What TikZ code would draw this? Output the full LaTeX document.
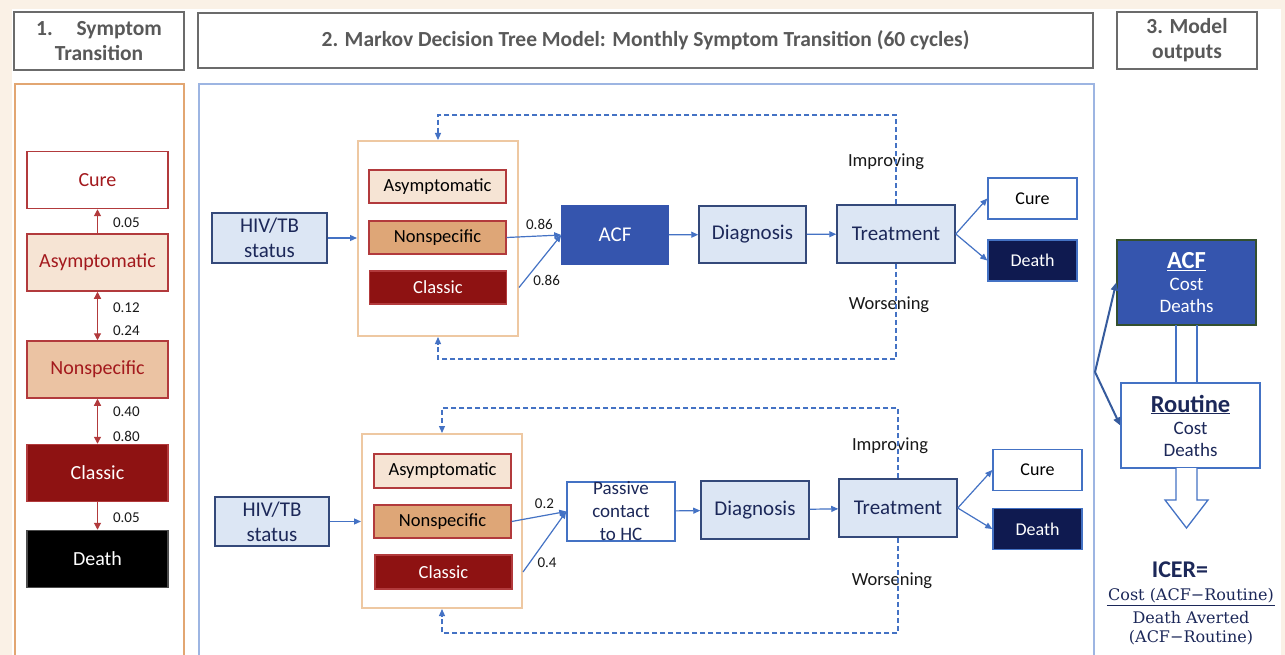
\documentclass[tikz,border=0pt]{standalone}
\usepackage{fontspec}
\setmainfont{Carlito}
\newfontfamily\icerfont{DejaVu Serif}
\usepackage{tikz}
\usetikzlibrary{arrows.meta,positioning}

\definecolor{cream}{HTML}{FAF1E6}
\definecolor{hdgray}{HTML}{6B6B6B}
\definecolor{txgray}{HTML}{595959}
\definecolor{panelorange}{HTML}{E2A672}
\definecolor{grporange}{HTML}{EEC8A2}
\definecolor{panelblue}{HTML}{9DB5E2}
\definecolor{symred}{HTML}{B23A3C}
\definecolor{symtext}{HTML}{A3191D}
\definecolor{asymfill}{HTML}{F6E4D4}
\definecolor{nonsfill}{HTML}{EBC3A3}
\definecolor{nonsdark}{HTML}{DEA677}
\definecolor{clasfill}{HTML}{8E1212}
\definecolor{stepfill}{HTML}{DCE6F4}
\definecolor{stepedge}{HTML}{34497A}
\definecolor{navytx}{HTML}{1C2859}
\definecolor{acfblue}{HTML}{3555AE}
\definecolor{deathnavy}{HTML}{0F1A50}
\definecolor{arrowblue}{HTML}{4472C4}
\definecolor{olive}{HTML}{34502F}

\tikzstyle{Header}=[rectangle, draw=hdgray, line width=2.5pt, text=txgray, font=\bfseries\fontsize{21.5}{25}\selectfont, align=center, inner sep=0pt]
\tikzstyle{Sym}=[rectangle, draw=symred, line width=1.5pt, minimum width=141, minimum height=57, inner sep=0pt, font=\fontsize{20}{24}\selectfont]
\tikzstyle{Inner}=[rectangle, draw=symred, line width=1.3pt, minimum width=137, minimum height=33, inner sep=0pt, font=\fontsize{18.5}{22}\selectfont]
\tikzstyle{Group}=[rectangle, draw=grporange, line width=2pt, fill=white, minimum width=160, inner sep=0pt]
\tikzstyle{StepBox}=[rectangle, draw=stepedge, line width=1.5pt, fill=stepfill, text=navytx, inner sep=0pt, font=\fontsize{21}{25}\selectfont, align=center]
\tikzstyle{Outcome}=[rectangle, draw=arrowblue, line width=1.5pt, minimum width=89, minimum height=41, inner sep=0pt, font=\fontsize{18}{22}\selectfont]
\tikzstyle{Flow}=[draw=arrowblue, line width=1.2pt, -{Triangle[length=7pt,width=6pt]}]
\tikzstyle{Loop}=[Flow, dash pattern=on 5pt off 3pt]
\tikzstyle{SymFlow}=[draw=symred, line width=1.2pt, -{Triangle[length=7pt,width=7pt]}]
\tikzstyle{Prob}=[font=\fontsize{15}{18}\selectfont, text=black!90, anchor=west, inner sep=0pt]
\tikzstyle{Branch}=[font=\fontsize{15}{18}\selectfont, text=black!90, inner sep=0pt]
\tikzstyle{Side}=[font=\fontsize{18.5}{22}\selectfont, text=black!90, inner sep=0pt]

\begin{document}
\begin{tikzpicture}[x=1pt, y=-1pt]
    \fill[cream] (0,0) rectangle (1285,655);
    \fill[white] (12,9) rectangle (1281,655);
    \useasboundingbox (0,0) rectangle (1285,655);

    % headers
    \path
    (99,41) node[Header, minimum width=170, minimum height=58] (hd1) {1.\hspace{1.1em}Symptom\\Transition}
    (645.5,40.5) node[Header, minimum width=895, minimum height=55] (hd2) {2. Markov Decision Tree Model: Monthly Symptom Transition (60 cycles)}
    (1187,40.5) node[Header, minimum width=140, minimum height=57] (hd3) {3. Model\\outputs};

    % panels
    \draw[panelorange, line width=2.5pt] (15,657) |- (184,84) -- (184,657);
    \draw[panelblue, line width=2.5pt] (199,657) |- (1094,84) -- (1094,657);

    % 1. symptom transition
    \path
    (97.5,180) node[Sym, fill=white, text=symtext] (cure1) {Cure}
    (97.5,262.5) node[Sym, fill=asymfill, text=symtext] (asym1) {Asymptomatic}
    (97.5,369.5) node[Sym, fill=nonsfill, text=symtext] (nons1) {Nonspecific}
    (97.5,473) node[Sym, fill=clasfill, text=white] (clas1) {Classic}
    (97.5,559) node[Sym, fill=black, draw=black!70, text=white] (dead1) {Death};

    \draw[SymFlow] (asym1) -- node[Prob, pos=0.45, xshift=15pt] {0.05} (cure1);
    \draw[SymFlow, {Triangle[length=7pt,width=7pt]}-{Triangle[length=7pt,width=7pt]}] (asym1) -- node[Prob, pos=0.32, xshift=15pt] {0.12} node[Prob, pos=0.8, xshift=15pt] {0.24} (nons1);
    \draw[SymFlow, {Triangle[length=7pt,width=7pt]}-{Triangle[length=7pt,width=7pt]}] (nons1) -- node[Prob, pos=0.28, xshift=15pt] {0.40} node[Prob, pos=0.83, xshift=15pt] {0.80} (clas1);
    \draw[SymFlow] (clas1) -- node[Prob, pos=0.57, xshift=15pt] {0.05} (dead1);

    % 2. ACF arm
    \path
    (438,238.5) node[Group, minimum height=195] (grpA) {}
    (437.5,186.5) node[Inner, fill=asymfill] (asymA) {Asymptomatic}
    (437.5,237.5) node[Inner, fill=nonsdark] (nonsA) {Nonspecific}
    (438,287.5) node[Inner, fill=clasfill, text=white] (clasA) {Classic}
    (269.5,238) node[StepBox, minimum width=115, minimum height=50] (hivA) {HIV/TB\\status}
    (615,235) node[StepBox, fill=acfblue, draw=acfblue, text=white, minimum width=106, minimum height=58] (acfA) {ACF}
    (752.5,234.5) node[StepBox, minimum width=107, minimum height=57] (diagA) {Diagnosis}
    (896,234) node[StepBox, minimum width=118, minimum height=58] (treatA) {Treatment}
    (1032.5,198.5) node[Outcome, fill=white] (cureA) {Cure}
    (1032.5,260.5) node[Outcome, fill=deathnavy, text=white] (deadA) {Death}
    (886,162) node[Side] (impA) {Improving}
    (889,305) node[Side] (worA) {Worsening};

    \draw[Flow] (hivA) -- (grpA.west |- hivA);
    \draw[Flow] (nonsA.east) -- node[Branch, pos=0.6, above=6pt] {0.86} (acfA.west);
    \draw[Flow] (grpA.east |- clasA) -- node[Branch, pos=0.3, below right=3pt and 1pt] {0.86} (acfA.west);
    \draw[Flow] (acfA) -- (diagA);
    \draw[Flow] (diagA) -- (treatA);
    \draw[Flow] (treatA.east) -- (cureA.west);
    \draw[Flow] (treatA.east) -- (deadA.west);
    \draw[Loop] (treatA.north) |- ([yshift=25pt]grpA.north) -- (grpA.north);
    \draw[Loop] (treatA.south) |- ([yshift=-22pt]grpA.south) -- (grpA.south);

    % 2. routine arm
    \path
    (442,521) node[Group, minimum height=174] (grpB) {}
    (442.5,471) node[Inner, fill=asymfill, minimum height=34] (asymB) {Asymptomatic}
    (442.5,521.5) node[Inner, fill=nonsdark] (nonsB) {Nonspecific}
    (443.5,572) node[Inner, fill=clasfill, text=white, minimum height=34] (clasB) {Classic}
    (272,521.5) node[StepBox, minimum width=114, minimum height=49] (hivB) {HIV/TB\\status}
    (621,511.5) node[StepBox, fill=white, draw=arrowblue, minimum width=108, minimum height=57, font=\fontsize{19}{23}\selectfont] (pasB) {Passive\\contact\\to HC}
    (755,510) node[StepBox, minimum width=108, minimum height=58] (diagB) {Diagnosis}
    (898,508) node[StepBox, minimum width=118, minimum height=58] (treatB) {Treatment}
    (1037.5,470) node[Outcome, fill=white] (cureB) {Cure}
    (1037.5,529) node[Outcome, fill=deathnavy, text=white] (deadB) {Death}
    (890,446) node[Side] (impB) {Improving}
    (892,581) node[Side] (worB) {Worsening};

    \draw[Flow] (hivB) -- (grpB.west |- hivB);
    \draw[Flow] (nonsB.east) -- node[Branch, pos=0.6, above=6pt] {0.2} (pasB.west);
    \draw[Flow] (grpB.east |- clasB) -- node[Branch, pos=0.3, below right=3pt and 1pt] {0.4} (pasB.west);
    \draw[Flow] (pasB) -- (diagB);
    \draw[Flow] (diagB) -- (treatB);
    \draw[Flow] (treatB.east) -- (cureB.west);
    \draw[Flow] (treatB.east) -- (deadB.west);
    \draw[Loop] (treatB.north) |- ([yshift=25pt]grpB.north) -- (grpB.north);
    \draw[Loop] (treatB.south) |- ([yshift=-24pt]grpB.south) -- (grpB.south);

    % 3. model outputs
    \path
    (1186.5,282.5) node[rectangle, draw=olive, line width=1.5pt, fill=acfblue, text=white, minimum width=139, minimum height=85, inner sep=0pt, align=center, font=\fontsize{19}{22}\selectfont] (acfO) {{\fontsize{24.5}{28}\selectfont\bfseries\underline{ACF}}\\Cost\\Deaths}
    (1190.5,425.5) node[rectangle, draw=arrowblue, line width=1.5pt, fill=white, text=navytx, minimum width=139, minimum height=85, inner sep=0pt, align=center, font=\fontsize{19}{22}\selectfont] (rouO) {{\fontsize{24.5}{28}\selectfont\bfseries\underline{Routine}}\\Cost\\Deaths};
    \coordinate (fork) at (1095,372);
    \draw[arrowblue!80!black, line width=2pt, -{Triangle[length=8pt,width=7pt]}] (fork) -- (acfO.west);
    \draw[arrowblue!80!black, line width=2pt, -{Triangle[length=8pt,width=7pt]}] (fork) -- (rouO.west);
    \draw[arrowblue, line width=1.3pt] (1176,325) -- (1176,383) (1197,325) -- (1197,383);
    \draw[arrowblue, line width=1.3pt, fill=white] (1176,468) -- (1176,500) -- (1165,500) -- (1186.5,528) -- (1208,500) -- (1197,500) -- (1197,468);

    \path
    (1180,570) node[text=navytx, font=\bfseries\fontsize{24}{28}\selectfont] (icer) {ICER=}
    (1191,596) node[text=navytx, font=\icerfont\fontsize{16}{19}\selectfont, inner sep=1pt] (icnum) {Cost (ACF−Routine)}
    (1191,628) node[text=navytx, font=\icerfont\fontsize{16}{19}\selectfont, align=center, inner sep=0pt] (icden) {Death Averted\\(ACF−Routine)};
    \draw[navytx, line width=1.5pt] ([yshift=-1pt]icnum.south west) -- ([yshift=-1pt]icnum.south east);
\end{tikzpicture}
\end{document}
